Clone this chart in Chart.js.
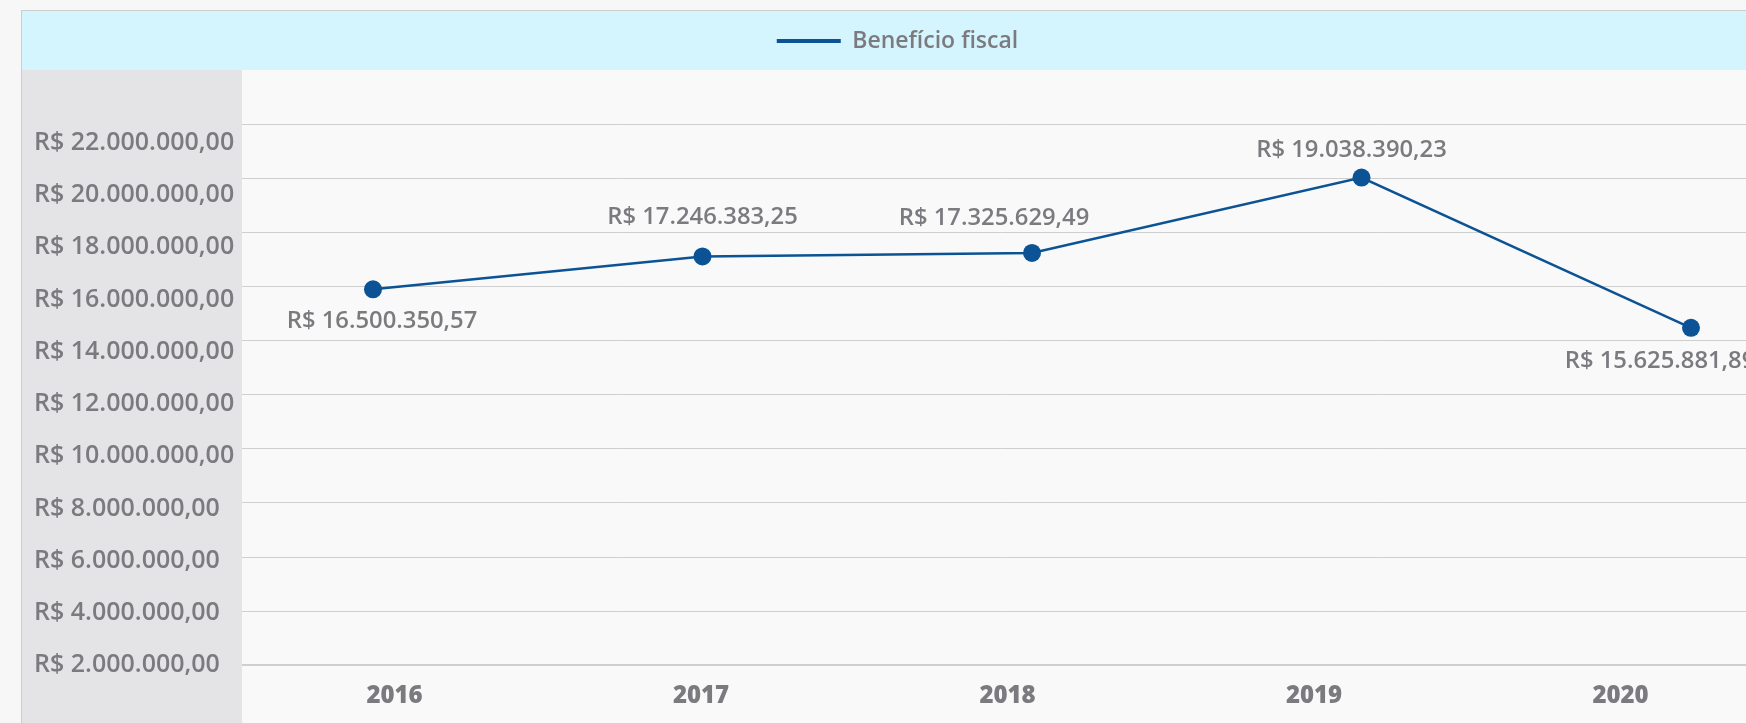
<!DOCTYPE html>
<html lang="pt-br">
<head>
  <meta charset="UTF-8">
  <title>Benefício fiscal</title>
  <script src="https://cdn.jsdelivr.net/npm/chart.js@4"></script>
  <style>
    html, body { margin: 0; padding: 0; background: #f7f7f7; overflow: hidden; }
    .quadro {
      position: absolute; left: 21px; top: 10px;
      width: 1753px; height: 716px;
      border-left: 1px solid #cdcdcd; border-top: 1px solid #cdcdcd;
    }
    canvas { display: block; }
  </style>
</head>
<body>
  <div class="quadro">
    <canvas id="grafico" width="1753" height="716"></canvas>
  </div>

  <script>
    // Dados
    const anos = ['2016', '2017', '2018', '2019', '2020'];
    const beneficio = [16500350.57, 17246383.25, 17325629.49, 19038390.23, 15625881.89];
    const ticksEixo = [2e6, 4e6, 6e6, 8e6, 10e6, 12e6, 14e6, 16e6, 18e6, 20e6, 22e6];
    const linhasGrade = [0, 1, 2, 3, 4, 5, 6, 7, 8, 9, 10];

    const azul = '#0b5394';
    const cinzaTexto = '#7b7b7f';

    function brl(v) {
      return 'R$ ' + v.toLocaleString('pt-BR', { minimumFractionDigits: 2, maximumFractionDigits: 2 });
    }

    // Fundos: faixa da legenda, coluna do eixo e área do gráfico
    const fundo = {
      id: 'fundo',
      beforeDraw(chart) {
        const { ctx, chartArea, width, height } = chart;
        ctx.save();
        ctx.fillStyle = '#d5f5fe';
        ctx.fillRect(0, 0, width, 59);
        ctx.fillStyle = '#e4e4e6';
        ctx.fillRect(0, 59, chartArea.left, height - 59);
        ctx.fillStyle = '#f9f9f9';
        ctx.fillRect(chartArea.left, 59, width - chartArea.left, height - 59);
        ctx.restore();
      }
    };

    // Rótulos de valor em cada ponto
    const rotulos = {
      id: 'rotulos',
      afterDatasetsDraw(chart, args, opts) {
        const ctx = chart.ctx;
        const meta = chart.getDatasetMeta(0);
        ctx.save();
        ctx.font = '600 23.8px "Open Sans"';
        ctx.fillStyle = cinzaTexto;
        ctx.textAlign = 'center';
        ctx.textBaseline = 'middle';
        meta.data.forEach((pt, i) => {
          const d = opts.desloc[i];
          ctx.fillText(brl(chart.data.datasets[0].data[i]), pt.x + d[0], pt.y + d[1]);
        });
        ctx.restore();
      }
    };

    new Chart(document.getElementById('grafico'), {
      type: 'line',
      data: {
        labels: anos,
        datasets: [{
          label: 'Benefício fiscal',
          data: beneficio,
          xAxisID: 'xp',
          yAxisID: 'y',
          borderColor: azul,
          backgroundColor: azul,
          borderWidth: 2.5,
          pointRadius: 9,
          pointBorderWidth: 0,
          pointBackgroundColor: azul,
          tension: 0,
          fill: false,
          clip: false
        }]
      },
      options: {
        responsive: false,
        animation: false,
        layout: { padding: { left: 12, right: 14, top: 0, bottom: 0 } },
        plugins: {
          legend: {
            position: 'top',
            labels: {
              boxWidth: 64,
              boxHeight: 4,
              padding: 18.5,
              color: cinzaTexto,
              font: { family: '"Open Sans"', size: 23, weight: '600' },
              generateLabels(chart) {
                const itens = Chart.defaults.plugins.legend.labels.generateLabels(chart);
                itens.forEach(it => { it.lineWidth = 0; it.fillStyle = azul; });
                return itens;
              }
            }
          },
          tooltip: { enabled: false },
          rotulos: {
            desloc: [[9, 32], [0, -39], [-38, -35], [-10, -27], [-31, 33]]
          }
        },
        scales: {
          x: {
            type: 'linear',
            position: 'bottom',
            min: 2015.5024,
            max: 2020.4584,
            grid: { display: false, drawTicks: false },
            border: { display: false },
            afterBuildTicks: s => { s.ticks = anos.map(a => ({ value: Number(a) })); },
            ticks: {
              padding: 16.5,
              maxRotation: 0,
              autoSkip: false,
              color: cinzaTexto,
              font: { family: '"Open Sans"', size: 24, weight: '800' },
              callback: (v, i) => anos[i]
            }
          },
          xp: { type: 'linear', display: false, min: 2015.6024, max: 2020.2124 },
          y: { type: 'linear', display: false, min: 7.96e6, max: 21.653e6 },
          yl: {
            type: 'linear',
            position: 'left',
            min: 2e6,
            max: 25.067e6,
            grid: { display: false, drawTicks: false },
            border: { display: false },
            afterBuildTicks: s => { s.ticks = ticksEixo.map(v => ({ value: v })); },
            afterFit: s => { s.width = 208; },
            ticks: {
              crossAlign: 'far',
              color: cinzaTexto,
              font: { family: '"Open Sans"', size: 25, weight: '600' },
              callback: v => brl(v)
            }
          },
          yg: {
            type: 'linear',
            position: 'left',
            min: 0,
            max: 11.143,
            afterBuildTicks: s => { s.ticks = linhasGrade.map(v => ({ value: v })); },
            ticks: { display: false },
            border: { display: false },
            grid: {
              drawTicks: false,
              color: '#cfcfcf',
              lineWidth: ctx => ctx.tick && ctx.tick.value === 0 ? 2 : 1
            }
          }
        }
      },
      plugins: [fundo, rotulos]
    });
  </script>
</body>
</html>
